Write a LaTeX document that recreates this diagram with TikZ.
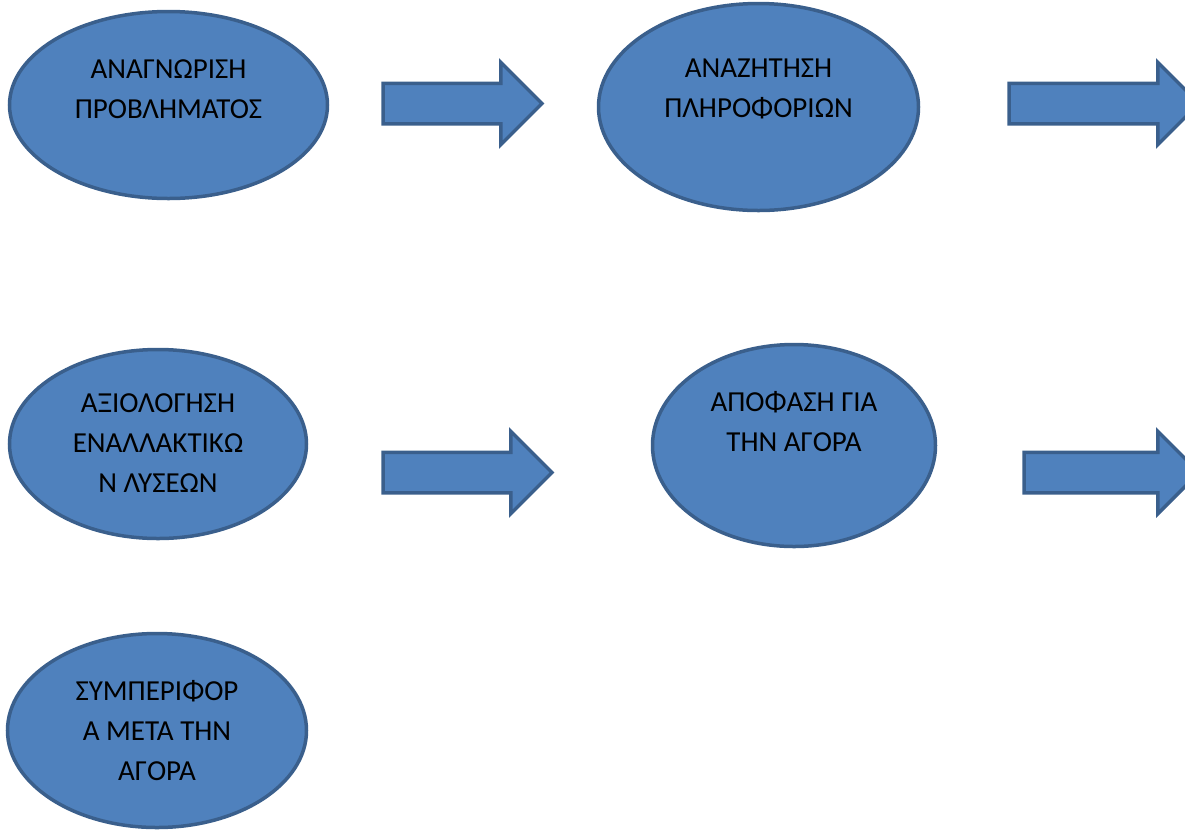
\documentclass[tikz,border=0pt]{standalone}
\usepackage{fontspec}
\setmainfont{Carlito}
\usepackage{tikz}
\usetikzlibrary{positioning, shapes.geometric, shapes.arrows}

\definecolor{stagefill}{HTML}{4F81BD}
\definecolor{stageline}{HTML}{3A5F8C}

\begin{document}
\begin{tikzpicture}[
        node distance = 50pt and 50pt,
        stage/.style = {ellipse, draw=stageline, fill=stagefill, line width=3.5pt, inner sep=0pt},
        stagetext/.style = {align=center, font=\fontsize{29}{40}\selectfont},
        blockarrow/.style = {single arrow, draw=stageline, fill=stagefill, line width=3.5pt,
            inner xsep=0pt, inner ysep=18.5pt, single arrow head extend=21pt, anchor=tail},
    ]
    \useasboundingbox (0,0) rectangle (1185pt,-831pt);
    \clip (0,0) rectangle (1185pt,-831pt);
    %
    \node[stage, minimum width=318pt, minimum height=187pt] (problem) at (168.5pt,-105pt) {};
    \node[stage, minimum width=320pt, minimum height=207pt] (search)  at (758.5pt,-107pt) {};
    \node[stage, minimum width=297pt, minimum height=189pt] (evaluate) at (158pt,-444pt) {};
    \node[stage, minimum width=283pt, minimum height=202pt] (decide)  at (794pt,-445.5pt) {};
    \node[stage, minimum width=299pt, minimum height=194pt] (after)   at (157pt,-730.5pt) {};
    %
    \node[stagetext] (problem_txt)  at ([yshift=16pt]problem.center)  {ΑΝΑΓΝΩΡΙΣΗ\\ΠΡΟΒΛΗΜΑΤΟΣ};
    \node[stagetext] (search_txt)   at ([yshift=18pt]search.center)   {ΑΝΑΖΗΤΗΣΗ\\ΠΛΗΡΟΦΟΡΙΩΝ};
    \node[stagetext] (evaluate_txt) at ([yshift=1pt]evaluate.center)  {ΑΞΙΟΛΟΓΗΣΗ\\ΕΝΑΛΛΑΚΤΙΚΩ\\Ν ΛΥΣΕΩΝ};
    \node[stagetext] (decide_txt)   at ([yshift=24pt]decide.center)   {ΑΠΟΦΑΣΗ ΓΙΑ\\ΤΗΝ ΑΓΟΡΑ};
    \node[stagetext] (after_txt)    at (after.center)                 {ΣΥΜΠΕΡΙΦΟΡ\\Α ΜΕΤΑ ΤΗΝ\\ΑΓΟΡΑ};
    %
    \node[blockarrow, minimum height=159pt, right=52pt of problem, anchor=tail, yshift=1.5pt] (arrow1) {};
    \node[blockarrow, minimum height=190pt, right=87pt of search, anchor=tail, yshift=3.5pt]  (arrow2) {};
    \node[blockarrow, minimum height=169pt, right=73pt of evaluate, anchor=tail, yshift=-28.5pt] (arrow3) {};
    \node[blockarrow, minimum height=175pt, right=85pt of decide, anchor=tail, yshift=-27pt]  (arrow4) {};
    %
\end{tikzpicture}
\end{document}
